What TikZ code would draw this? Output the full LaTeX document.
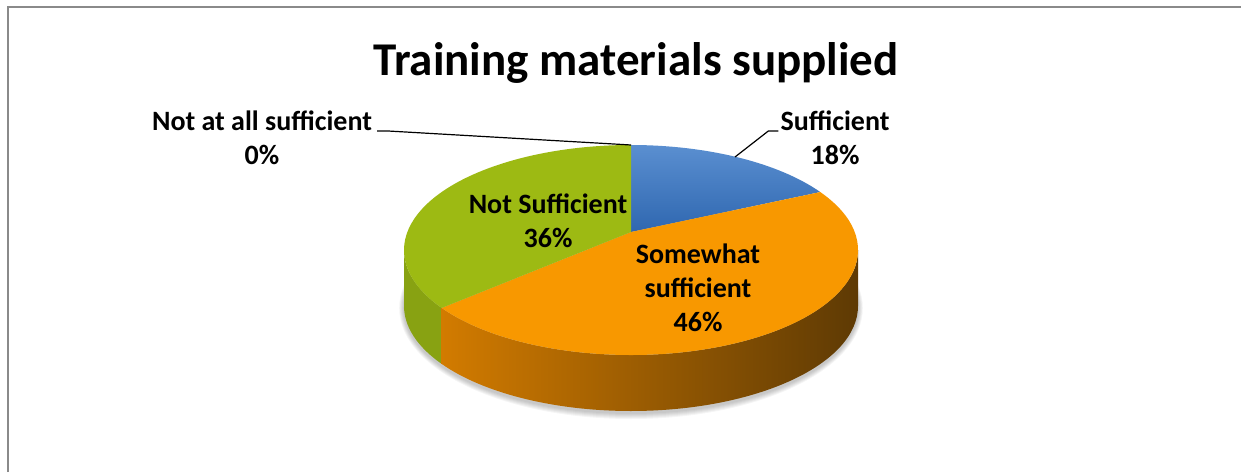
\documentclass[tikz,border=0pt]{standalone}
\usepackage{fontspec}
\setmainfont{Carlito}
\usetikzlibrary{calc}

\definecolor{sufblue}{HTML}{3D7BC8}
\definecolor{sufbluedk}{HTML}{2F67B0}
\definecolor{somorange}{HTML}{F89800}
\definecolor{somsidel}{HTML}{D27B00}
\definecolor{somsidem}{HTML}{9C5A02}
\definecolor{somsided}{HTML}{5E3A04}
\definecolor{notgreen}{HTML}{9DBA13}
\definecolor{notgreenside}{HTML}{88A212}
\definecolor{framegray}{HTML}{8A8A8A}

\begin{document}
\begin{tikzpicture}[x=1pt,y=1pt,
	lbl/.style={font=\bfseries\fontsize{28}{34}\selectfont,align=center,inner sep=0pt,anchor=base},
	leader/.style={black,line width=1.2pt},
	rim/.style={x radius=227pt,y radius=105pt}]

			\useasboundingbox (0,0) rectangle (1241,472);

			%frame
			\draw [framegray,line width=1.6pt] (8,0) -- (8,465) -- (1241,465);

			%centre of ellipse and apex of the slices
			\coordinate (c) at (631,222);
			\coordinate (v) at (631,240);
			\coordinate (cb) at (631,166);

			%soft shadow under the pie
			\foreach \s in {1,...,6}
				\fill [black,opacity=0.04] ($(cb)+(0,-2pt)$) ellipse [x radius={227pt+\s*0.8pt},y radius={105pt+\s*1pt}];

			%side walls
			\fill [notgreenside] ($(c)+(180:227pt and 105pt)$) arc [start angle=180,end angle=213.5,rim]
				-- ++(0,-56pt) arc [start angle=213.5,end angle=180,rim] -- cycle;
			\shade [left color=somsidel,middle color=somsidem,right color=somsided]
				($(c)+(213.5:227pt and 105pt)$) arc [start angle=213.5,end angle=360,rim]
				-- ++(0,-56pt) arc [start angle=360,end angle=213.5,rim] -- cycle;

			%top faces
			\shade [top color=sufblue!85!white,bottom color=sufbluedk] (v) -- ($(c)+(90:227pt and 105pt)$)
				arc [start angle=90,end angle=33.5,rim] -- cycle;
			\fill [somorange] (v) -- ($(c)+(33.5:227pt and 105pt)$)
				arc [start angle=33.5,end angle=-146.5,rim] -- cycle;
			\fill [notgreen] (v) -- ($(c)+(213.5:227pt and 105pt)$)
				arc [start angle=213.5,end angle=90,rim] -- cycle;

			%title
			\node [font=\bfseries\fontsize{47}{56}\selectfont,anchor=base] (title) at (636,396) {Training materials supplied};

			%labels on the slices (base = last line)
			\node [lbl] (notsuf) at (548,225) {Not Sufficient\\36\%};
			\node [lbl] (somsuf) at (698,141) {Somewhat\\sufficient\\46\%};

			%labels outside with leader lines
			\node [lbl] (notall) at (262,307) {Not at all sufficient\\0\%};
			\node [lbl] (suf) at (835,307) {Sufficient\\18\%};
			\coordinate (topPt) at ($(c)+(90:227pt and 105pt)$);
			\coordinate (sufPt) at (735,315);

			\draw [leader] ([xshift=5pt,yshift=34pt]notall.base east) -- ++(11,0) -- (topPt);
			\draw [leader] ([xshift=-2pt,yshift=34pt]suf.base west) -- ++(-10,0) -- (sufPt);

\end{tikzpicture}
\end{document}
